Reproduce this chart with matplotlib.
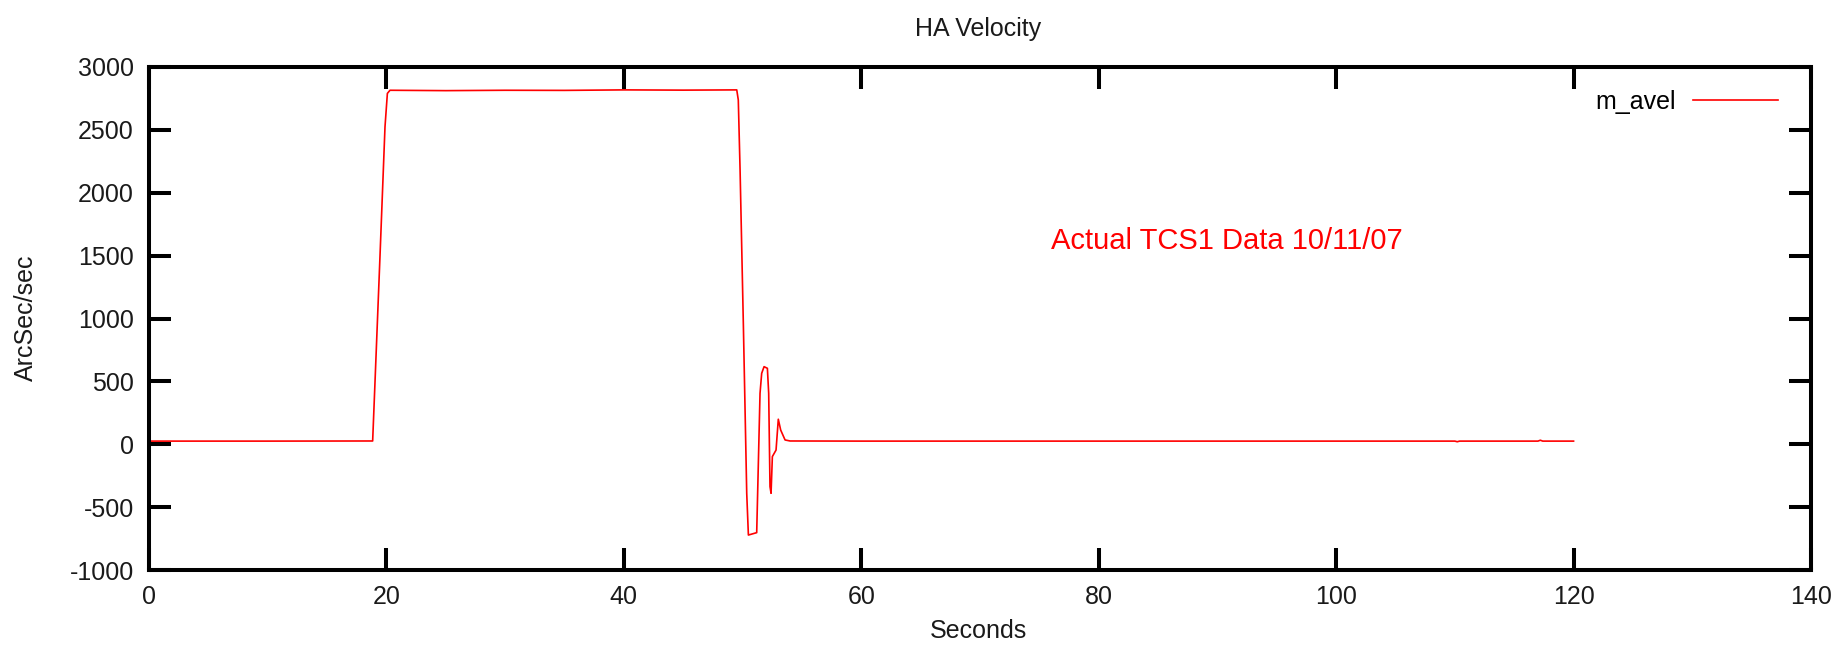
"""
Plots the HA velocity trace (m_avel) from the TCS1 run, gnuplot style.
"""
import matplotlib
matplotlib.use("Agg")
import matplotlib.pyplot as plt


# GLOBAL VARIABLE(s)
# Time (seconds) and HA velocity (arcsec/sec)
SECONDS = [0, 10, 18.84, 19.04, 19.46, 19.88, 20.08, 20.3, 25, 30, 35,
           40, 45, 49.51, 49.64, 49.79, 50.07, 50.35, 50.49, 51.19, 51.47,
           51.61, 51.81, 52.09, 52.2, 52.31, 52.4, 52.51, 52.82, 53.01,
           53.21, 53.58, 54.0, 60, 70, 80, 90, 100, 110, 110.2, 110.4,
           117, 117.2, 117.4, 120]
VELOCITY = [25, 25, 26, 500, 1500, 2525, 2790, 2815, 2812, 2815, 2814,
            2818, 2816, 2818, 2738, 2181, 935, -390, -722, -703, 405,
            564, 617, 604, 405, -337, -390, -98, -46, 199,
            113, 34, 26, 25, 25, 25, 25, 25, 25, 20, 25,
            25, 32, 25, 25]

X_TICKS = [0, 20, 40, 60, 80, 100, 120, 140]
Y_TICKS = [-1000, -500, 0, 500, 1000, 1500, 2000, 2500, 3000]

TITLE = "HA Velocity"
X_LABEL = "Seconds"
Y_LABEL = "ArcSec/sec"
SERIES_LABEL = "m_avel"
NOTE = "Actual TCS1 Data 10/11/07"

W, H = 1845, 655


def style_axes(ax):
	# Heavy frame with inward ticks mirrored on all four sides
	for side in ax.spines.values():
		side.set_linewidth(2.9)
	ax.tick_params(direction="in", length=16, width=2.9,
		       top=True, right=True, labelsize=18,
		       labelcolor="#1a1a1a")
	ax.tick_params(axis="x", pad=11)
	ax.tick_params(axis="y", pad=11)
	ax.set_xlim(X_TICKS[0], X_TICKS[-1])
	ax.set_ylim(Y_TICKS[0], Y_TICKS[-1])
	ax.set_xticks(X_TICKS)
	ax.set_yticks(Y_TICKS)


def main():
	plt.rcParams["font.family"] = ["Liberation Sans", "DejaVu Sans"]
	plt.rcParams["axes.unicode_minus"] = False

	fig = plt.figure(figsize=(W / 100, H / 100), dpi=100)
	ax = fig.add_axes([149 / W, 1 - 570 / H, (1811 - 149) / W, (570 - 67) / H])
	style_axes(ax)

	ax.plot(SECONDS, VELOCITY, color="#ff0000", linewidth=1.2,
		label=SERIES_LABEL)

	# gnuplot-like key: text first, then the sample line
	ax.legend(loc="center right", bbox_to_anchor=(0.980, 0.930),
		  frameon=False, markerfirst=False, fontsize=18,
		  handlelength=3.4, handletextpad=0.68,
		  borderpad=0, borderaxespad=0)

	ax.text(76.0, 1553, NOTE, color="#ff0000", fontsize=21,
		ha="left", va="baseline")

	# Titles placed in figure pixels
	fig.text(978 / W, 1 - 36 / H, TITLE, ha="center", va="baseline",
		 fontsize=18, color="#1a1a1a")
	fig.text(978 / W, 1 - 638 / H, X_LABEL, ha="center", va="baseline",
		 fontsize=18, color="#1a1a1a")
	fig.text(26 / W, 1 - 318 / H, Y_LABEL, ha="center", va="center",
		 rotation=90, fontsize=18, color="#1a1a1a")

	fig.savefig("out.png", dpi=100)


if __name__ == "__main__":
	main()
